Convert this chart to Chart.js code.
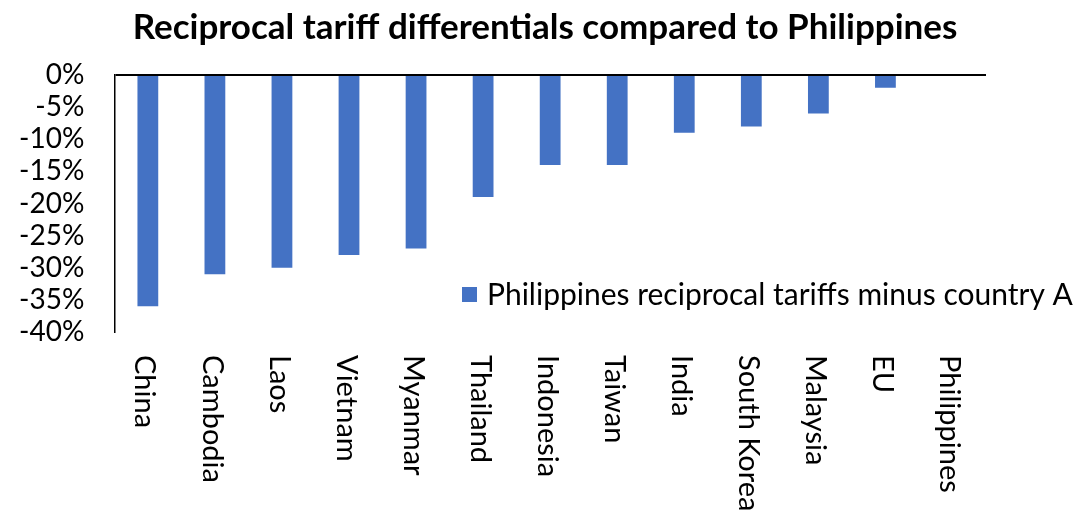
<!DOCTYPE html>
<html>
<head>
<meta charset="utf-8">
<script src="https://cdn.jsdelivr.net/npm/chart.js@4"></script>
<style>
  html, body { margin: 0; padding: 0; background: #fff; }
  #wrap { width: 1076px; height: 512px; }
</style>
</head>
<body>
<div id="wrap"><canvas id="tariffs"></canvas></div>
<script>
// data
var countries = ['China', 'Cambodia', 'Laos', 'Vietnam', 'Myanmar', 'Thailand', 'Indonesia',
                 'Taiwan', 'India', 'South Korea', 'Malaysia', 'EU', 'Philippines'];
var differentials = [-36, -31, -30, -28, -27, -19, -14, -14, -9, -8, -6, -2, 0];
var seriesName = 'Philippines reciprocal tariffs minus country A';
var chartTitle = 'Reciprocal tariff differentials compared to Philippines';

var FONT = 'Lato, Calibri, Carlito, sans-serif';
var BLUE = '#4472C4';

// title, turned category labels and the in-plot legend
var extras = {
  id: 'extras',
  afterDraw: function (chart) {
    var ctx = chart.ctx;
    var xs = chart.scales.x;
    ctx.save();

    ctx.fillStyle = '#000';
    ctx.font = 'bold 35px ' + FONT;
    ctx.textAlign = 'center';
    ctx.textBaseline = 'middle';
    ctx.fillText(chartTitle, 545, 28);

    // excel style: 90deg, reading top to bottom
    ctx.font = '29px ' + FONT;
    ctx.textAlign = 'left';
    countries.forEach(function (name, i) {
      var x = xs.getPixelForValue(i);
      ctx.save();
      ctx.translate(x - 3, chart.chartArea.bottom + 23);
      ctx.rotate(Math.PI / 2);
      ctx.fillText(name, 0, 0);
      ctx.restore();
    });

    var ds = chart.data.datasets[0];
    var lx = 462, ly = 295;
    ctx.fillStyle = ds.backgroundColor;
    ctx.fillRect(lx, ly - 8, 15, 15);
    ctx.fillStyle = '#000';
    ctx.font = '30px ' + FONT;
    ctx.fillText(ds.label, lx + 25, ly);
    ctx.restore();
  }
};

var myBarChart = new Chart(document.getElementById('tariffs'), {
  type: 'bar',
  data: {
    labels: countries,
    datasets: [{
      label: seriesName,
      data: differentials,
      backgroundColor: BLUE,
      borderWidth: 0,
      barPercentage: 0.62,
      categoryPercentage: 0.5
    }]
  },
  options: {
    responsive: true,
    maintainAspectRatio: false,
    animation: false,
    layout: { padding: { left: -11, right: 90, top: 75, bottom: 172 } },
    plugins: {
      legend: { display: false },
      tooltip: { enabled: false },
      title: { display: false }
    },
    scales: {
      x: {
        grid: { display: false },
        border: { display: false },
        ticks: { display: false }
      },
      y: {
        min: -40,
        max: 0,
        ticks: {
          stepSize: 5,
          autoSkip: false,
          color: '#000',
          padding: 30,
          font: { family: FONT, size: 28 },
          callback: function (v) { return v + '%'; }
        },
        grid: {
          drawTicks: false,
          lineWidth: 2,
          color: function (c) { return c.tick && c.tick.value === 0 ? '#000' : 'rgba(0,0,0,0)'; }
        },
        border: { color: '#000', width: 1.5 }
      }
    }
  },
  plugins: [extras]
});
</script>
</body>
</html>
